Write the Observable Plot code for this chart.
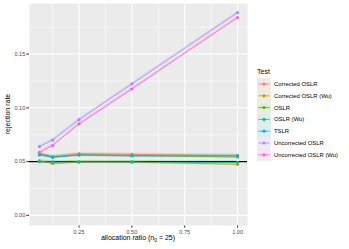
<!DOCTYPE html>
<html><head><meta charset="utf-8">
<script src="https://cdn.jsdelivr.net/npm/d3@7"></script>
<script src="https://cdn.jsdelivr.net/npm/@observablehq/plot@0.6"></script>
<style>
html,body{margin:0;padding:0;background:#fff;}
#chart{width:349px;height:249px;overflow:hidden;}
</style></head><body><div id="chart"></div>
<script>
const ratios = [0.0625, 0.125, 0.25, 0.5, 1.0];
const tests = ["Corrected OSLR","Corrected OSLR (Wu)","OSLR","OSLR (Wu)","TSLR","Uncorrected OSLR","Uncorrected OSLR (Wu)"];
const colors = ["#F8766D","#C49A00","#53B400","#00C094","#00B6EB","#A58AFF","#FB61D7"];
const correctedOSLR   = [0.0575, 0.0545, 0.0572, 0.0567, 0.0555];
const correctedOSLRWu = [0.0508, 0.0482, 0.0496, 0.0495, 0.0475];
const oslr            = [0.0570, 0.0543, 0.0562, 0.0557, 0.0543];
const oslrWu          = [0.0500, 0.0497, 0.0497, 0.0497, 0.0493];
const tslr            = [0.0562, 0.0540, 0.0562, 0.0553, 0.0556];
const uncorrectedOSLR   = [0.0640, 0.0700, 0.0890, 0.1222, 0.1885];
const uncorrectedOSLRWu = [0.0585, 0.0650, 0.0850, 0.1175, 0.1840];
const ciHalf = 0.0014;
const alpha = 0.05;
const xTicks = [0.25, 0.5, 0.75, 1.0];
const yTicks = [0, 0.05, 0.10, 0.15];

const series = [correctedOSLR, correctedOSLRWu, oslr, oslrWu, tslr, uncorrectedOSLR, uncorrectedOSLRWu];
const data = [];
series.forEach((vals, i) => vals.forEach((v, j) => data.push({test: tests[i], ratio: ratios[j], rate: v, lo: v - ciHalf, hi: v + ciHalf})));

const xMinor = [0.125, 0.375, 0.625, 0.875];
const yMinor = [0.025, 0.075, 0.125, 0.175];
const font = "'Liberation Sans', Arial, sans-serif";

const plot = Plot.plot({
  width: 349, height: 249,
  marginLeft: 29, marginRight: 102, marginTop: 3, marginBottom: 24,
  style: {fontFamily: font, background: "#fff"},
  x: {domain: [0.0156, 1.047], ticks: xTicks, tickFormat: d3.format(".2f"), label: null, tickSize: 2.7, tickPadding: 1.5},
  y: {domain: [-0.0094, 0.197], ticks: yTicks, tickFormat: d3.format(".2f"), label: null, tickSize: 2.7, tickPadding: 1.5},
  color: {domain: tests, range: colors},
  marks: [
    Plot.frame({fill: "#EBEBEB", stroke: null}),
    Plot.gridX(xMinor, {stroke: "#fff", strokeOpacity: 1, strokeWidth: 0.55}),
    Plot.gridY(yMinor, {stroke: "#fff", strokeOpacity: 1, strokeWidth: 0.55}),
    Plot.gridX(xTicks, {stroke: "#fff", strokeOpacity: 1, strokeWidth: 1.07}),
    Plot.gridY(yTicks, {stroke: "#fff", strokeOpacity: 1, strokeWidth: 1.07}),
    Plot.areaY(data, {x: "ratio", y1: "lo", y2: "hi", fill: "test", fillOpacity: 0.2, z: "test"}),
    Plot.ruleY([alpha], {stroke: "#000", strokeWidth: 1.1}),
    Plot.line(data, {x: "ratio", y: "rate", stroke: "test", z: "test", strokeWidth: 0.8}),
    Plot.dot(data, {x: "ratio", y: "rate", fill: "test", r: 1.6, stroke: null})
  ]
});
document.getElementById("chart").appendChild(plot);

const svg = d3.select(plot);
svg.selectAll("[aria-label='x-axis tick label'] text, [aria-label='y-axis tick label'] text")
  .attr("fill", "#4D4D4D").style("font-size", "5.6px");
svg.selectAll("[aria-label='x-axis tick'] path, [aria-label='y-axis tick'] path").attr("stroke", "#333");

// axis titles
const xt = svg.append("text").attr("x", 138).attr("y", 240).attr("text-anchor", "middle")
  .style("font-family", font).style("font-size", "7px").attr("fill", "#000");
xt.append("tspan").attr("fill", "#000").text("allocation ratio (n");
xt.append("tspan").attr("fill", "#000").attr("dy", 1.8).style("font-size", "5px").text("0");
xt.append("tspan").attr("fill", "#000").attr("dy", -1.8).text(" = 25)");
svg.append("text").attr("transform", "translate(10,114) rotate(-90)").attr("text-anchor", "middle")
  .style("font-family", font).style("font-size", "7px").attr("fill", "#000").text("rejection rate");

// legend
const lg = svg.append("g").style("font-family", font).attr("text-anchor", "start");
lg.append("text").attr("x", 257).attr("y", 74).attr("text-anchor", "start").style("font-size", "7px").attr("fill", "#000").text("Test");
tests.forEach((t, i) => {
  const cy = 84 + i * 11.8;
  lg.append("rect").attr("x", 257).attr("y", cy - 5.9).attr("width", 14).attr("height", 11.8).attr("fill", "#F2F2F2");
  lg.append("rect").attr("x", 257).attr("y", cy - 5.9).attr("width", 14).attr("height", 11.8).attr("fill", colors[i]).attr("fill-opacity", 0.08);
  lg.append("line").attr("x1", 258.5).attr("x2", 269.5).attr("y1", cy).attr("y2", cy).attr("stroke", colors[i]).attr("stroke-width", 0.8);
  lg.append("circle").attr("cx", 264).attr("cy", cy).attr("r", 1.6).attr("fill", colors[i]);
  lg.append("text").attr("x", 274).attr("y", cy + 2).attr("text-anchor", "start").style("font-size", "5.9px").attr("fill", "#000").text(t);
});
</script></body></html>
